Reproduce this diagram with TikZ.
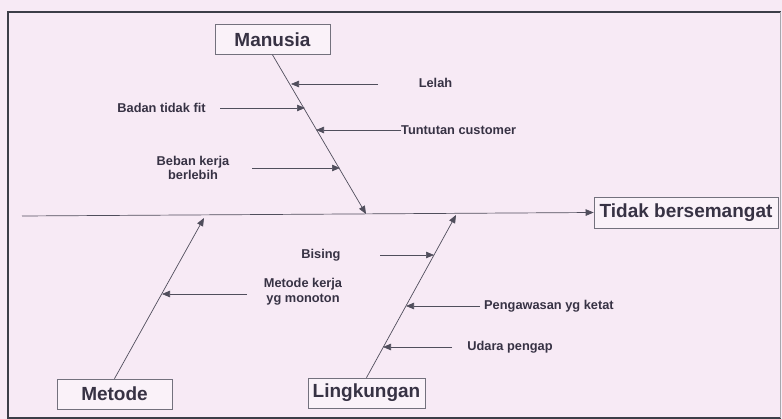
\documentclass[tikz,border=0pt]{standalone}
\usepackage{fontspec}
\setmainfont{Liberation Sans}[BoldFont={Liberation Sans Bold}]
\usetikzlibrary{arrows.meta}
\definecolor{bgpink}{RGB}{247,234,245}
\definecolor{txtc}{RGB}{55,50,68}
\definecolor{linec}{RGB}{80,78,92}
\definecolor{framec}{RGB}{60,62,72}
\tikzset{
  bigbox/.style={draw=linec!80, line width=0.7pt, fill=white!40!bgpink, text=txtc,
    font=\fontsize{19}{21}\selectfont\bfseries, minimum height=30pt, inner sep=0pt},
  lbl/.style={text=txtc, font=\fontsize{12.8}{14.5}\selectfont\bfseries, inner sep=0pt, align=center},
  bone/.style={draw=linec, line width=0.7pt, -{Triangle[length=8pt,width=6.5pt]}},
  sub/.style={draw=linec, line width=0.6pt, -{Triangle[length=8pt,width=6.5pt]}}
}
\begin{document}
\begin{tikzpicture}[x=1pt,y=-1pt]
\fill[bgpink] (0,0) rectangle (782,419);
\useasboundingbox (0,0) rectangle (782,419);
% frame
\draw[framec, line width=2pt] (8,419) -- (8,12) -- (781,12);
\draw[framec, line width=1.6pt] (8,418) -- (781,418);
\draw[linec!50, line width=0.8pt] (780,12) -- (780,418);

% boxes
\node[bigbox, minimum width=115pt] (man) at (272.5,39.5) {Manusia};
\node[bigbox, minimum width=115pt] (met) at (114.5,394) {Metode};
\node[bigbox, minimum width=117pt] (ling) at (366.5,393) {Lingkungan};
\node[bigbox, minimum width=184pt, minimum height=31pt] (tid) at (686,212.5) {Tidak bersemangat};

% spine
\coordinate (spstart) at (22,216);
\draw[bone] (spstart) -- (tid.west);

% bone end points on spine
\coordinate (manend) at (366,214);
\coordinate (metend) at (204,218);
\coordinate (lingend) at (456,215);
\draw[bone] (man.south) -- (manend);
\draw[bone] (met.north) -- (metend);
\draw[bone] (ling.north) -- (lingend);

% Manusia causes
\node[lbl] (lelah) at (435.5,83) {Lelah};
\coordinate (lelahs) at (378,84);
\coordinate (lelahe) at (291,84);
\draw[sub] (lelahs) -- (lelahe);

\node[lbl] (badan) at (161.5,108) {Badan tidak fit};
\coordinate (badans) at (220,108);
\coordinate (badane) at (305,108);
\draw[sub] (badans) -- (badane);

\node[lbl, anchor=west] (tuntut) at (401,130) {Tuntutan customer};
\coordinate (tuntute) at (316,130);
\draw[sub] (tuntut.west) -- (tuntute);

\node[lbl] (beban) at (193,168) {Beban kerja\\berlebih};
\coordinate (bebans) at (252,168);
\coordinate (bebane) at (340,168);
\draw[sub] (bebans) -- (bebane);

% Metode causes
\node[lbl] (mkerja) at (303,291.5) {Metode kerja\\yg monoton};
\coordinate (mkerjas) at (247,294);
\coordinate (mkerjae) at (162,294);
\draw[sub] (mkerjas) -- (mkerjae);

% Lingkungan causes
\node[lbl] (bising) at (321,255) {Bising};
\coordinate (bisings) at (380,255);
\coordinate (bisinge) at (434,255);
\draw[sub] (bisings) -- (bisinge);

\node[lbl, anchor=west] (pengaw) at (484,306) {Pengawasan yg ketat};
\coordinate (pengaws) at (480,306);
\coordinate (pengawe) at (406,306);
\draw[sub] (pengaws) -- (pengawe);

\node[lbl] (udara) at (510,347) {Udara pengap};
\coordinate (udaras) at (452,347);
\coordinate (udarae) at (383,347);
\draw[sub] (udaras) -- (udarae);
\end{tikzpicture}
\end{document}
